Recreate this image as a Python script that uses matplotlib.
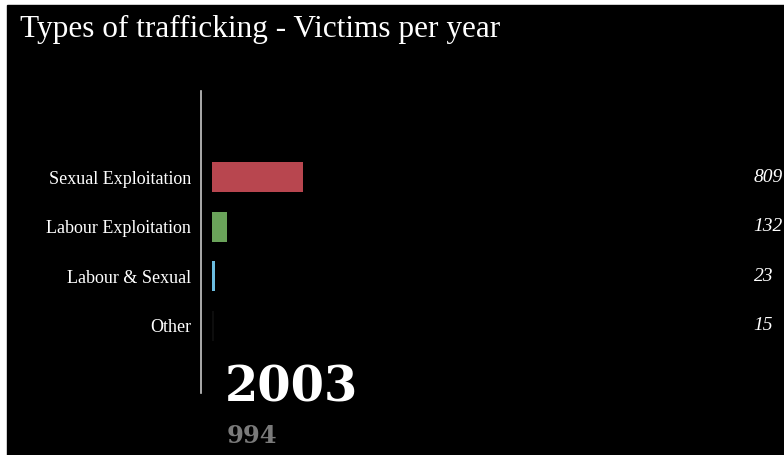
import matplotlib
matplotlib.use("Agg")
import matplotlib.pyplot as plt
from matplotlib.patches import Rectangle

W, H = 784, 455

categories = ["Sexual Exploitation", "Labour Exploitation", "Labour & Sexual", "Other"]
victims    = [809, 132, 23, 15]
colors     = ["#b8464f", "#6aa35a", "#6cbde0", "#0d0d0d"]
year       = "2003"
year_total = 994

SERIF = ["Liberation Serif", "DejaVu Serif"]
plt.rcParams["font.family"] = SERIF

fig = plt.figure(figsize=(W / 100, H / 100), dpi=100, facecolor="white")
# black canvas, leaving a thin white strip on the left and top
fig.add_artist(Rectangle((7 / W, 0), 1 - 7 / W, 1 - 5 / H,
                         transform=fig.transFigure, color="black", zorder=-5))

ax = fig.add_axes([212 / W, (H - 393) / H, 1 - 212 / W, 302 / H])
ax.set_facecolor("none")

ypos = list(range(len(categories)))
ax.barh(ypos, victims, height=0.6, color=colors, zorder=2)

ax.set_xlim(0, 809 * 572 / 91)
ax.set_ylim(4.36, -1.74)

ax.set_yticks(ypos)
ax.set_yticklabels(categories)
ax.tick_params(axis="y", length=0, pad=7, labelcolor="white", labelsize=13)
ax.set_xticks([])
for lbl in ax.get_yticklabels():
    lbl.set_va("bottom")
    lbl.set_y(lbl.get_position()[1])

for s in ["top", "right", "bottom"]:
    ax.spines[s].set_visible(False)
ax.spines["left"].set_position(("outward", 8))
ax.spines["left"].set_color("#c8c8c8")
ax.spines["left"].set_linewidth(1.2)

# value labels sit in a fixed column at the right edge
for y, v in zip(ypos, victims):
    ax.text(0.947, y, f"{v}", transform=ax.get_yaxis_transform(),
            ha="left", va="center", color="white", fontsize=14,
            style="italic", clip_on=False)

fig.text(20 / W, 1 - 37 / H, "Types of trafficking - Victims per year",
         color="white", fontsize=22.5, ha="left", va="baseline")
fig.text(225 / W, 1 - 402 / H, year, color="white", fontsize=34.5,
         fontweight="bold", family="DejaVu Serif", ha="left", va="baseline")
fig.text(227 / W, 1 - 443 / H, f"{year_total}", color="#7a7a7a", fontsize=17.5,
         fontweight="bold", family="DejaVu Serif", ha="left", va="baseline")

fig.savefig("out.png", dpi=100, facecolor=fig.get_facecolor())
plt.close(fig)
